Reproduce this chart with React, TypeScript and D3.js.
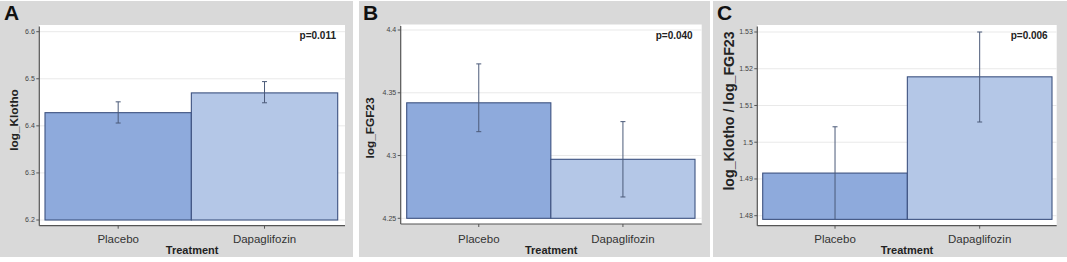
import React from "react";
import * as d3 from "d3";

// ---- data ----
const categories = ["Placebo", "Dapaglifozin"];

const klothoMean = [6.428, 6.470];
const klothoLow = [6.406, 6.449];
const klothoHigh = [6.451, 6.494];
const klothoTicks = [6.2, 6.3, 6.4, 6.5, 6.6];

const fgfMean = [4.342, 4.297];
const fgfLow = [4.319, 4.267];
const fgfHigh = [4.373, 4.327];
const fgfTicks = [4.25, 4.3, 4.35, 4.4];

const ratioMean = [1.4916, 1.5178];
const ratioLow = [1.479, 1.5055];
const ratioHigh = [1.5042, 1.5300];
const ratioTicks = [1.48, 1.49, 1.5, 1.51, 1.52, 1.53];

const panelLetters = ["A", "B", "C"];
const yLabels = ["log_Klotho", "log_FGF23", "log_Klotho / log_FGF23"];
const pValues = ["p=0.011", "p=0.040", "p=0.006"];
const xTitle = "Treatment";
const baseValues = [6.2, 4.25, 1.479];

const FONT = "'Liberation Sans', Arial, Helvetica, sans-serif";
const barColors = ["#8eaadc", "#b4c7e7"];

type Layout = {
  gx: number; gw: number; axisX: number; plotRight: number; plotTop: number;
  axisY: number; barLeft: number; barRight: number; yRange: [number, number];
  yDomain: [number, number]; labelX: number; labelY: number; labelSize: number;
};

const layouts: Layout[] = [
  { gx: 0, gw: 353, axisX: 39.3, plotRight: 345, plotTop: 25, axisY: 225.7, barLeft: 45, barRight: 337.7,
    yDomain: [6.2, 6.6], yRange: [220, 31.7], labelX: 13.5, labelY: 120, labelSize: 11.8 },
  { gx: 359, gw: 351, axisX: 400.7, plotRight: 701.7, plotTop: 24.5, axisY: 224, barLeft: 406.7, barRight: 695,
    yDomain: [4.25, 4.4], yRange: [218.3, 30], labelX: 370, labelY: 128, labelSize: 11.8 },
  { gx: 713, gw: 354, axisX: 757.3, plotRight: 1056.7, plotTop: 25, axisY: 225.7, barLeft: 762.7, barRight: 1052,
    yDomain: [1.48, 1.53], yRange: [215.7, 32], labelX: 729, labelY: 111, labelSize: 14.2 },
];

type PanelProps = {
  idx: number; mean: number[]; low: number[]; high: number[]; ticks: number[];
};

function Panel({ idx, mean, low, high, ticks }: PanelProps) {
  const L = layouts[idx];
  const y = d3.scaleLinear().domain(L.yDomain).range(L.yRange);
  const x = d3.scaleBand<string>().domain(categories).range([L.barLeft, L.barRight]).paddingInner(0).paddingOuter(0);
  const base = baseValues[idx];
  const fmt = (v: number) => String(+v.toFixed(3));
  const plotBottom = L.axisY;
  return (
    <g>
      <rect x={L.gx} y={1} width={L.gw} height={256} fill="#d9d9d9" />
      <text x={L.gx + 4} y={19.5} fontFamily={FONT} fontWeight="bold" fontSize={21} fill="#111">
        {panelLetters[idx]}
      </text>
      <rect x={L.axisX} y={L.plotTop} width={L.plotRight - L.axisX} height={plotBottom - L.plotTop} fill="#ffffff" />
      {ticks.map((t) => (
        <line key={"g" + t} x1={L.axisX} x2={L.plotRight} y1={y(t)} y2={y(t)} stroke="#e9e9e9" strokeWidth={1} />
      ))}
      {categories.map((c, i) => (
        <rect key={"b" + c} x={x(c)!} y={y(mean[i])} width={x.bandwidth()} height={y(base) - y(mean[i])}
          fill={barColors[i]} stroke="#3d5280" strokeWidth={1.1} />
      ))}
      {categories.map((c, i) => {
        const cx = x(c)! + x.bandwidth() / 2;
        return (
          <g key={"e" + c} stroke="#4b5a78" strokeWidth={1}>
            <line x1={cx} x2={cx} y1={y(high[i])} y2={y(low[i])} />
            <line x1={cx - 2.5} x2={cx + 2.5} y1={y(high[i])} y2={y(high[i])} />
            {low[i] > base + 1e-6 && <line x1={cx - 2.5} x2={cx + 2.5} y1={y(low[i])} y2={y(low[i])} />}
          </g>
        );
      })}
      <line x1={L.axisX} x2={L.axisX} y1={L.plotTop + 1.5} y2={L.axisY} stroke="#555" strokeWidth={1.2} />
      <line x1={L.axisX} x2={L.plotRight} y1={L.axisY} y2={L.axisY} stroke="#555" strokeWidth={1.2} />
      {ticks.map((t) => (
        <g key={"t" + t}>
          <line x1={L.axisX - 3} x2={L.axisX} y1={y(t)} y2={y(t)} stroke="#555" strokeWidth={1} />
          <text x={L.axisX - 4.5} y={y(t)} dy="0.35em" textAnchor="end" fontFamily={FONT} fontSize={7} fill="#444">
            {fmt(t)}
          </text>
        </g>
      ))}
      {categories.map((c) => {
        const cx = x(c)! + x.bandwidth() / 2;
        return (
          <g key={"x" + c}>
            <line x1={cx} x2={cx} y1={L.axisY} y2={L.axisY + 3} stroke="#555" strokeWidth={1} />
            <text x={cx} y={243} textAnchor="middle" fontFamily={FONT} fontSize={11.5} fill="#333">{c}</text>
          </g>
        );
      })}
      <text x={(L.axisX + L.plotRight) / 2} y={254} textAnchor="middle" fontFamily={FONT} fontSize={11}
        fontWeight="bold" fill="#222">{xTitle}</text>
      <text transform={`translate(${L.labelX},${L.labelY}) rotate(-90)`} textAnchor="middle" dy="0.35em"
        fontFamily={FONT} fontSize={L.labelSize} fontWeight="bold" fill="#222">{yLabels[idx]}</text>
      <text x={L.plotRight - 9} y={39} textAnchor="end" fontFamily={FONT} fontSize={10} fontWeight="bold" fill="#222">
        {pValues[idx]}
      </text>
    </g>
  );
}

export default function App() {
  return (
    <svg width={1067} height={262} style={{ position: "absolute", left: 0, top: 0, background: "#fff" }}>
      <Panel idx={0} mean={klothoMean} low={klothoLow} high={klothoHigh} ticks={klothoTicks} />
      <Panel idx={1} mean={fgfMean} low={fgfLow} high={fgfHigh} ticks={fgfTicks} />
      <Panel idx={2} mean={ratioMean} low={ratioLow} high={ratioHigh} ticks={ratioTicks} />
    </svg>
  );
}
